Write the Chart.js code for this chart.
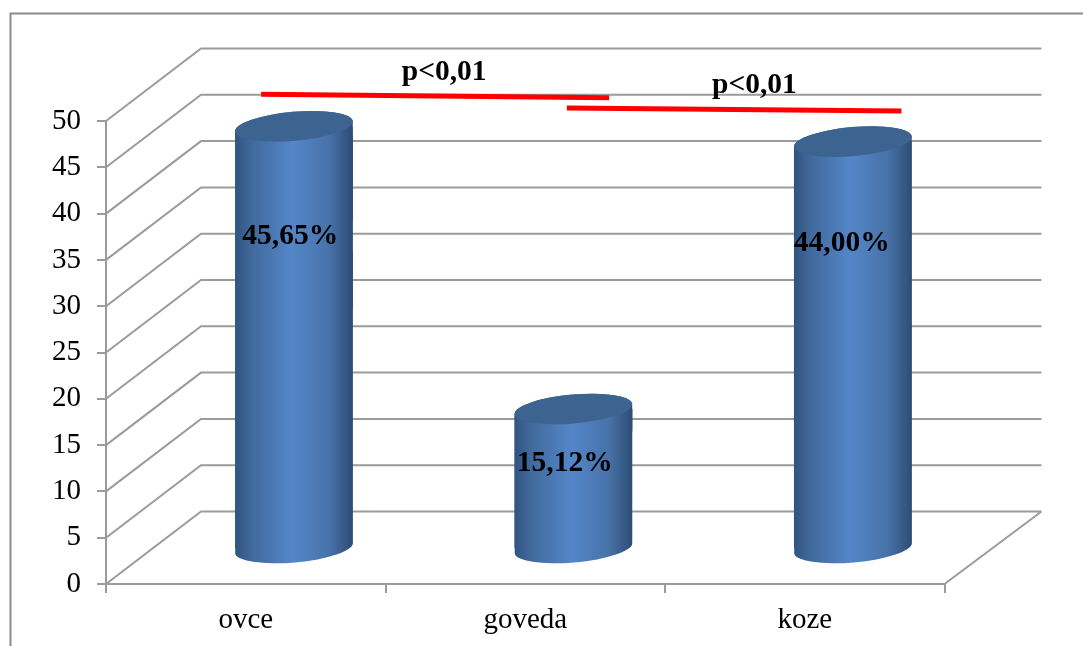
<!DOCTYPE HTML>
<html lang="sr">
<head>
    <meta charset="UTF-8">
    <title>ovce, goveda, koze</title>
    <script src="https://cdn.jsdelivr.net/npm/chart.js"></script>
    <style>
        body { background-color: #fff; margin: 0; padding: 0; }
        canvas { display: block; }
    </style>
</head>
<body>
<canvas id="myChart" width="1083" height="646"></canvas>
<script>
    // Podaci
    var categories = ['ovce', 'goveda', 'koze'];
    var percentages = [45.65, 15.12, 44.00];
    var axisMin = 0;
    var axisMax = 50;
    var axisStep = 5;

    // Linije značajnosti: položaj po kategorijama (0-3) i visina na osi vrednosti
    var sigLabel = 'p<0,01';
    var sigLineA = [{x: 0.555, y: 52.9}, {x: 1.80, y: 52.5}];
    var sigLineB = [{x: 1.649, y: 51.4}, {x: 2.846, y: 51.08}];

    var serif = '"Liberation Serif", serif';
    var gridColor = '#9b9b9b';

    // Pomak zadnjeg zida i pomak valjaka u odnosu na prednju ravan
    var wallDx = 95, wallDy = -72.5;
    var barDx = 48.2, barDy = -35;
    var tilt = -5 * Math.PI / 180;
    var capRy = 14.5;

    function barGradient(context) {
        var chart = context.chart;
        if (context.dataIndex === undefined || !chart.scales.x) return '#4a7ab5';
        var cx = chart.scales.x.getPixelForValue(context.dataIndex);
        if (!isFinite(cx)) return '#4a7ab5';
        var half = 59;
        var g = chart.ctx.createLinearGradient(cx - half, 0, cx + half, 0);
        g.addColorStop(0, '#2f5480');
        g.addColorStop(0.14, '#41699c');
        g.addColorStop(0.48, '#5486c8');
        g.addColorStop(0.8, '#4772a9');
        g.addColorStop(1, '#2d4c74');
        return g;
    }

    function commaPercent(v) {
        return v.toFixed(2).replace('.', ',') + '%';
    }

    // Obris valjka: gornja polovina elipse na vrhu, donja polovina na dnu
    function cylinderPath(c, bar) {
        c.ellipse(bar.x, bar.y, bar.width / 2, capRy, tilt, Math.PI, Math.PI * 2);
        c.ellipse(bar.x, bar.base, bar.width / 2, capRy, tilt, 0, Math.PI);
        c.closePath();
    }

    // Okvir, zadnji zid i pod
    var wallPlugin = {
        id: 'wall',
        beforeDraw: function(chart) {
            var c = chart.ctx;
            c.save();
            c.strokeStyle = '#8a8a8a';
            c.lineWidth = 2;
            c.beginPath();
            c.moveTo(10.5, 646);
            c.lineTo(10.5, 13.5);
            c.lineTo(1083, 13.5);
            c.stroke();
            c.restore();
        },
        beforeDatasetsDraw: function(chart) {
            var c = chart.ctx;
            var y = chart.scales.y;
            var left = chart.chartArea.left;
            var right = chart.chartArea.right;
            c.save();
            c.strokeStyle = gridColor;
            c.lineWidth = 2;
            c.beginPath();
            y.ticks.forEach(function(t) {
                var py = y.getPixelForValue(t.value);
                c.moveTo(left, py);
                c.lineTo(left + wallDx, py + wallDy);
                c.lineTo(right + wallDx + 2, py + wallDy);
            });
            var base = y.getPixelForValue(axisMin);
            c.moveTo(right, base);
            c.lineTo(right + wallDx + 2, base + wallDy);
            c.stroke();
            c.restore();
        }
    };

    // Valjci: obični stubovi isečeni u oblik valjka, sa elipsom na vrhu
    var cylinderPlugin = {
        id: 'cylinder',
        beforeDatasetDraw: function(chart, args) {
            if (args.meta.type !== 'bar') return;
            var c = chart.ctx;
            c.save();
            c.translate(barDx, barDy);
            args.meta.data.forEach(function(bar) {
                c.beginPath();
                cylinderPath(c, bar);
                c.fillStyle = bar.options.backgroundColor;
                c.fill();
            });
            c.beginPath();
            args.meta.data.forEach(function(bar) {
                cylinderPath(c, bar);
            });
            c.clip();
        },
        afterDatasetDraw: function(chart, args) {
            if (args.meta.type !== 'bar') return;
            var c = chart.ctx;
            c.restore();
            c.save();
            c.translate(barDx, barDy);
            c.fillStyle = '#3d6491';
            args.meta.data.forEach(function(bar) {
                c.beginPath();
                c.ellipse(bar.x, bar.y, bar.width / 2, capRy, tilt, 0, Math.PI * 2);
                c.fill();
            });
            c.restore();
        }
    };

    // Natpisi sa procentima i p vrednostima
    var labelPlugin = {
        id: 'labels',
        afterDatasetsDraw: function(chart) {
            var c = chart.ctx;
            var bars = chart.getDatasetMeta(0).data;
            var nudge = [[44.5, 75], [39.5, 19], [37, 67]];
            c.save();
            c.fillStyle = '#000';
            c.font = 'bold 29.5px ' + serif;
            c.textAlign = 'center';
            c.textBaseline = 'middle';
            percentages.forEach(function(v, i) {
                c.fillText(commaPercent(v), bars[i].x + nudge[i][0], bars[i].y + nudge[i][1]);
            });
            var x2 = chart.scales.x2;
            var y = chart.scales.y;
            c.fillText(sigLabel, x2.getPixelForValue(1.21), y.getPixelForValue(55.2));
            c.fillText(sigLabel, x2.getPixelForValue(2.32), y.getPixelForValue(53.8));
            c.restore();
        }
    };

    var ctx = document.getElementById('myChart').getContext('2d');
    var myChart = new Chart(ctx, {
        type: 'bar',
        data: {
            labels: categories,
            datasets: [
                {
                    data: percentages,
                    backgroundColor: barGradient,
                    barPercentage: 0.422,
                    categoryPercentage: 1,
                    grouped: false,
                    order: 2
                },
                {
                    type: 'line',
                    xAxisID: 'x2',
                    data: sigLineA,
                    borderColor: '#ff0000',
                    borderWidth: 5,
                    pointRadius: 0,
                    clip: false,
                    order: 1
                },
                {
                    type: 'line',
                    xAxisID: 'x2',
                    data: sigLineB,
                    borderColor: '#ff0000',
                    borderWidth: 5,
                    pointRadius: 0,
                    clip: false,
                    order: 1
                }
            ]
        },
        options: {
            responsive: false,
            animation: false,
            events: [],
            layout: { padding: { top: 121, right: 138.5, left: 0, bottom: 0 } },
            plugins: { legend: { display: false }, tooltip: { enabled: false } },
            scales: {
                x: {
                    afterFit: function(scale) { scale.height = 62; },
                    grid: { drawOnChartArea: false, color: gridColor, lineWidth: 2, tickLength: 9 },
                    border: { color: gridColor, width: 2 },
                    ticks: { color: '#000', font: { family: serif, size: 29 }, padding: 10, maxRotation: 0 }
                },
                x2: { type: 'linear', display: false, offset: false, min: 0, max: 3 },
                y: {
                    min: axisMin,
                    max: axisMax,
                    afterFit: function(scale) { scale.width = 106; },
                    grid: { drawOnChartArea: false, color: gridColor, lineWidth: 2, tickLength: 9 },
                    border: { color: gridColor, width: 2 },
                    ticks: { stepSize: axisStep, color: '#000', font: { family: serif, size: 29 }, padding: 16 }
                }
            }
        },
        plugins: [wallPlugin, cylinderPlugin, labelPlugin]
    });
</script>
</body>
</html>
